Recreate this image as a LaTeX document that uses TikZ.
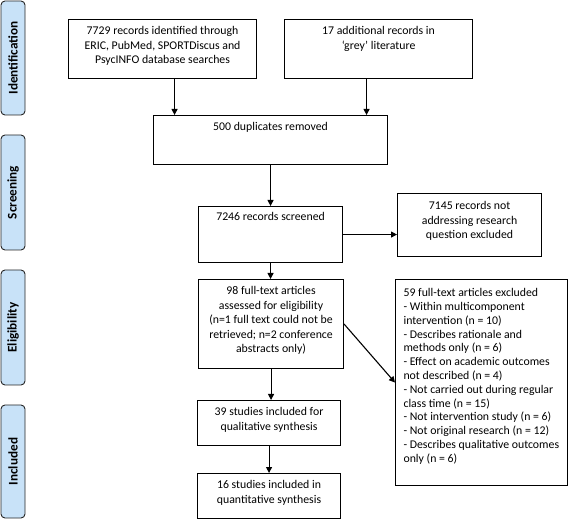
\documentclass[tikz,border=0pt]{standalone}
\usepackage{fontspec}
\setmainfont{Carlito}
\usetikzlibrary{arrows.meta}
\definecolor{lblue}{RGB}{200,226,248}
\newcommand{\bxt}[4]{\parbox[c][#2][t]{#1}{\centering\vspace*{#3}#4\par}}
\newcommand{\bxl}[4]{\parbox[c][#2][t]{#1}{\raggedright\leftskip=8pt\vspace*{#3}#4\par}}
\begin{document}
\begin{tikzpicture}[x=1pt,y=-1pt,
  box/.style={draw=black, line width=1.1pt, inner sep=0pt, anchor=north west, font=\fontsize{11.8}{14.5}\selectfont},
  side/.style={draw=black!85, fill=lblue, rounded corners=4pt, line width=0.9pt, rotate=90,
    minimum height=24pt, inner sep=0pt, font=\bfseries\fontsize{13.2}{14}\selectfont},
  conn/.style={-{Triangle[length=6pt,width=6pt]}, line width=1.1pt}]
\useasboundingbox (0,0) rectangle (568,521);
% side labels
\node[side, minimum width=114pt] (lid) at (13,58) {Identification};
\node[side, minimum width=115pt] (lsc) at (13,192.5) {Screening};
\node[side, minimum width=115pt] (lel) at (13,327.5) {Eligibility};
\node[side, minimum width=113pt] (lin) at (13,461.5) {Included};
% boxes
\node[box] (b1) at (68,19) {\bxt{188pt}{59pt}{7pt}{7729 records identified through\\ERIC, PubMed, SPORTDiscus and\\PsycINFO database searches}};
\node[box] (b2) at (284,19) {\bxt{188pt}{59pt}{7pt}{17 additional records in\\`grey' literature}};
\node[box] (b3) at (153,115) {\bxt{234pt}{49pt}{7pt}{500 duplicates removed}};
\node[box] (b4) at (198,206) {\bxt{144pt}{56pt}{6pt}{7246 records screened}};
\node[box] (b5) at (397,193) {\bxt{144pt}{63pt}{8pt}{7145 records not\\addressing research\\question excluded}};
\node[box] (b6) at (198,279) {\bxt{145pt}{89pt}{7pt}{98 full-text articles\\assessed for eligibility\\(n=1 full text could not be\\retrieved; n=2 conference\\abstracts only)}};
\node[box] (b7) at (197,400) {\bxt{143pt}{45pt}{7pt}{39 studies included for\\qualitative synthesis}};
\node[box] (b8) at (197,473) {\bxt{143pt}{45pt}{7pt}{16 studies included in\\quantitative synthesis}};
\node[box, font=\fontsize{11.8}{13.8}\selectfont] (b9) at (395,279) {\bxl{172pt}{206pt}{9pt}{59 full-text articles excluded\\- Within multicomponent\\intervention (n = 10)\\- Describes rationale and\\methods only (n = 6)\\- Effect on academic outcomes\\not described (n = 4)\\- Not carried out during regular\\class time (n = 15)\\- Not intervention study (n = 6)\\- Not original research (n = 12)\\- Describes qualitative outcomes\\only (n = 6)}};
% connectors
\draw[conn] ([xshift=12pt]b1.south) -- ([xshift=12pt]b1.south |- b3.north);
\draw[conn] ([xshift=-12pt]b2.south) -- ([xshift=-12pt]b2.south |- b3.north);
\draw[conn] (b3.south) -- (b3.south |- b4.north);
\draw[conn] (b4.east) -- (b4.east -| b5.west);
\draw[conn] (b4.south) -- (b4.south |- b6.north);
\draw[conn] (b6.east) -- (b9.west);
\draw[conn] (b6.south) -- (b6.south |- b7.north);
\draw[conn] (b7.south) -- (b7.south |- b8.north);
\end{tikzpicture}
\end{document}
